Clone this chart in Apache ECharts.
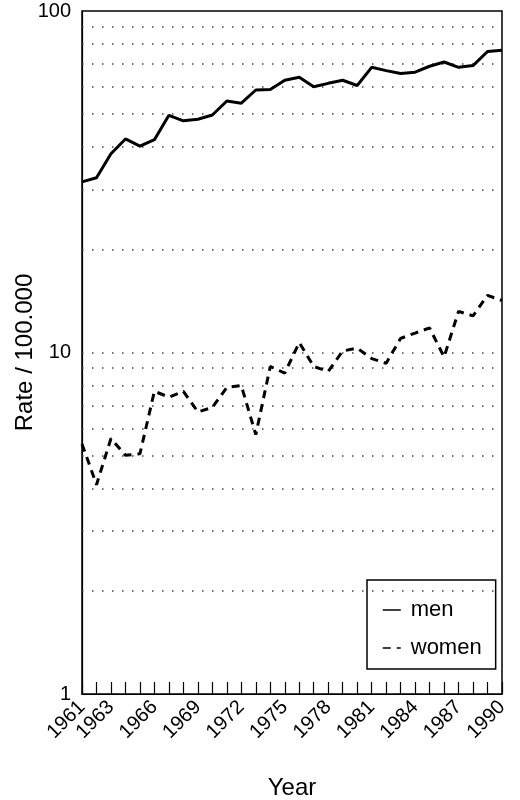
<!DOCTYPE html>
<html>
<head>
<meta charset="utf-8">
<script src="https://cdn.jsdelivr.net/npm/echarts@6/dist/echarts.min.js"></script>
<style>
html,body{margin:0;padding:0;background:#fff;}
#chart{width:520px;height:800px;}
</style>
</head>
<body>
<div id="chart"></div>
<script>
const years = ['1961','1962','1963','1964','1965','1966','1967','1968','1969','1970',
  '1971','1972','1973','1974','1975','1976','1977','1978','1979','1980',
  '1981','1982','1983','1984','1985','1986','1987','1988','1989','1990'];
const tickLabels = ['1961','1963','1966','1969','1972','1975','1978','1981','1984','1987','1990'];
const men = [31.6, 32.5, 38.2, 42.2, 40.2, 42.0, 49.5, 47.7, 48.2, 49.6,
  54.5, 53.7, 58.7, 58.9, 62.7, 64.0, 60.0, 61.4, 62.7, 60.5,
  68.4, 66.9, 65.6, 66.2, 68.9, 70.9, 68.4, 69.2, 76.1, 76.7];
const women = [5.4, 4.1, 5.6, 5.0, 5.05, 7.7, 7.4, 7.7, 6.7, 6.9,
  7.9, 8.0, 5.75, 9.1, 8.7, 10.7, 9.1, 8.8, 10.1, 10.3,
  9.6, 9.3, 11.0, 11.4, 11.8, 9.7, 13.2, 12.8, 14.7, 14.2];
const gridValues = [2, 3, 4, 5, 6, 7, 8, 9, 10, 20, 30, 40, 50, 60, 70, 80, 90];

const FONT = 'Liberation Sans';
const chart = echarts.init(document.getElementById('chart'), null, {renderer: 'canvas'});
chart.setOption({
  animation: false,
  backgroundColor: '#fff',
  textStyle: {fontFamily: FONT, color: '#000'},
  grid: {left: 82, right: 18, top: 11, bottom: 106, show: true, borderColor: '#000', borderWidth: 1.5,
         containLabel: false, outerBoundsMode: 'none'},
  legend: {
    show: true,
    orient: 'vertical',
    left: 367, top: 580,
    padding: [19, 14, 10, 15],
    itemGap: 16,
    itemWidth: 18,
    itemHeight: 12,
    borderColor: '#000',
    borderWidth: 1.5,
    backgroundColor: '#fff',
    textStyle: {fontFamily: FONT, fontSize: 22, color: '#000', padding: [0, 0, 0, 5]},
    itemStyle: {opacity: 0},
    lineStyle: {width: 1.5},
    data: ['men', 'women']
  },
  xAxis: {
    type: 'category',
    data: years,
    boundaryGap: false,
    name: 'Year',
    nameLocation: 'middle',
    nameGap: 82,
    nameMoveOverlap: false,
    nameTextStyle: {fontFamily: FONT, fontSize: 24, color: '#000'},
    axisLine: {show: true, lineStyle: {color: '#000', width: 1.2}},
    axisTick: {show: true, inside: true, length: 12, interval: 0, lineStyle: {color: '#000', width: 1.2}},
    axisLabel: {
      interval: function (idx, val) { return tickLabels.indexOf(val) >= 0; },
      rotate: 45,
      margin: 10,
      fontFamily: FONT,
      fontSize: 20,
      color: '#000'
    },
    splitLine: {show: false}
  },
  yAxis: {
    type: 'log',
    logBase: 10,
    min: 1,
    max: 100,
    name: 'Rate / 100.000',
    nameLocation: 'middle',
    nameRotate: 90,
    nameGap: 45,
    nameMoveOverlap: false,
    nameTextStyle: {fontFamily: FONT, fontSize: 24, color: '#000'},
    axisLine: {show: true, lineStyle: {color: '#000', width: 1.2}},
    axisTick: {show: false},
    axisLabel: {fontFamily: FONT, fontSize: 20, color: '#000', margin: 11},
    splitLine: {show: false}
  },
  series: [
    {
      name: 'men',
      type: 'line',
      data: men,
      symbol: 'none',
      lineStyle: {color: '#000', width: 3},
      itemStyle: {color: '#000'},
      z: 5,
      markLine: {
        silent: true,
        symbol: 'none',
        label: {show: false},
        lineStyle: {color: '#444', width: 1.5, type: [1.5, 8.5]},
        data: gridValues.map(function (v) { return {yAxis: v}; })
      }
    },
    {
      name: 'women',
      type: 'line',
      data: women,
      symbol: 'none',
      lineStyle: {color: '#000', width: 3, type: [8, 6]},
      itemStyle: {color: '#000'},
      z: 5
    }
  ]
});
</script>
</body>
</html>
